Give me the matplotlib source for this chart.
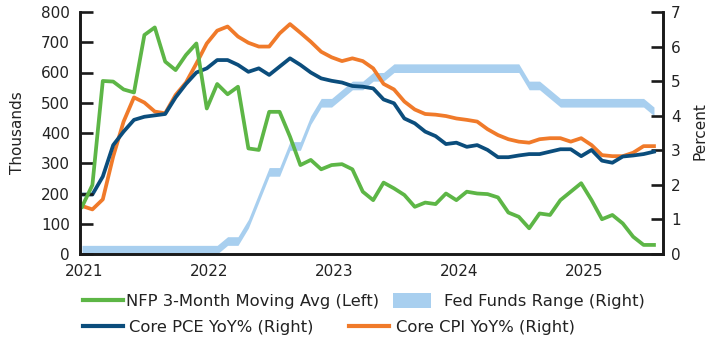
import numpy as np
import matplotlib
matplotlib.use("Agg")
import matplotlib.pyplot as plt
from matplotlib.lines import Line2D
from matplotlib.patches import Patch

# monthly, Jan 2021 .. Aug 2025
months = np.arange(56)
year_ticks = [0, 12, 24, 36, 48]
year_labels = ['2021', '2022', '2023', '2024', '2025']

# NFP 3-month moving average, thousands (left axis)
nfp_3m = [156, 228, 572, 570, 544, 534, 724, 749, 636, 608, 658, 696,
          481, 562, 528, 553, 349, 344, 470, 470, 388, 294, 311, 280,
          294, 297, 280, 206, 178, 236, 217, 195, 156, 170, 165, 200,
          178, 206, 200, 198, 187, 137, 123, 85, 134, 129, 178, 206,
          234, 178, 115, 129, 101, 57, 30, 30]

# Core PCE YoY %, right axis
core_pce = [1.72, 1.72, 2.24, 3.15, 3.54, 3.88, 3.97, 4.01, 4.05, 4.53, 4.92, 5.25,
            5.37, 5.61, 5.61, 5.47, 5.27, 5.37, 5.18, 5.42, 5.66, 5.47, 5.25, 5.08,
            5.01, 4.96, 4.86, 4.84, 4.79, 4.47, 4.36, 3.92, 3.78, 3.54, 3.41, 3.18,
            3.22, 3.10, 3.15, 3.01, 2.80, 2.80, 2.85, 2.89, 2.89, 2.96, 3.03, 3.03,
            2.83, 3.01, 2.70, 2.64, 2.82, 2.85, 2.89, 2.96]

# Core CPI YoY %, right axis
core_cpi = [1.39, 1.29, 1.58, 2.82, 3.83, 4.53, 4.38, 4.12, 4.07, 4.60, 4.96, 5.51,
            6.09, 6.46, 6.58, 6.29, 6.11, 6.00, 6.00, 6.38, 6.65, 6.40, 6.14, 5.85,
            5.69, 5.58, 5.66, 5.58, 5.37, 4.92, 4.76, 4.41, 4.18, 4.05, 4.03, 3.99,
            3.92, 3.88, 3.83, 3.61, 3.44, 3.32, 3.25, 3.22, 3.32, 3.35, 3.35, 3.25,
            3.35, 3.15, 2.86, 2.83, 2.83, 2.93, 3.12, 3.12]

# Fed funds target range, upper bound %, range width 0.25
fed_upper = np.array([0.25] * 14 + [0.5, 0.5, 1.0, 1.75, 2.5, 2.5, 3.25, 3.25, 4.0,
                      4.5, 4.5, 4.75, 5.0, 5.0, 5.25, 5.25] + [5.5] * 13 +
                     [5.0, 5.0, 4.75] + [4.5] * 9 + [4.25])
fed_width = 0.25
fed_lower = fed_upper - fed_width

c_green = '#5db646'
c_navy = '#0b4d7c'
c_orange = '#f07a2a'
c_blue = '#a8cfef'
c_text = '#222222'

plt.rcParams['font.family'] = 'DejaVu Sans'
fig = plt.figure(figsize=(7.15, 3.45), dpi=100)
ax = fig.add_axes([79.5 / 715, 1 - 254 / 345, 583 / 715, 242 / 345])
ax2 = ax.twinx()
ax.set_zorder(ax2.get_zorder() + 1)
ax.patch.set_visible(False)

ax2.fill_between(months, fed_lower, fed_upper, color=c_blue, lw=0, zorder=1)
ax2.plot(months, core_cpi, color=c_orange, lw=2.7, zorder=2)
ax2.plot(months, core_pce, color=c_navy, lw=2.7, zorder=3)
ax.plot(months, nfp_3m, color=c_green, lw=2.7)

ax.set_xlim(-0.24, 55.82)
ax.set_ylim(0, 800)
ax2.set_ylim(0, 7)
ax.set_yticks(range(0, 801, 100))
ax2.set_yticks(range(0, 8))
ax.set_xticks(np.array(year_ticks) + 0.25)
ax.set_xticklabels(year_labels)

for a in (ax, ax2):
    a.spines['top'].set_visible(False)
    for s in ('left', 'right', 'bottom'):
        a.spines[s].set_linewidth(1.9)
        a.spines[s].set_color('#1a1a1a')
ax.tick_params(axis='y', direction='in', length=9, width=1.9, labelsize=11,
               pad=7, colors='#1a1a1a', labelcolor=c_text)
ax2.tick_params(axis='y', direction='in', length=9, width=1.9, labelsize=11,
                pad=6, colors='#1a1a1a', labelcolor=c_text)
ax.tick_params(axis='x', length=0, labelsize=11, pad=7, labelcolor=c_text)

ax.set_ylabel('Thousands', fontsize=11, color=c_text)
ax.yaxis.set_label_coords(-0.094, 0.5)
ax2.set_ylabel('Percent', fontsize=11, color=c_text)
ax2.yaxis.set_label_coords(1.051, 0.51)

fs = 11.8
entries = [
    (Line2D([], [], color=c_green, lw=3), 'NFP 3-Month Moving Avg (Left)', 83, 301, 2.45, 0.15),
    (Patch(facecolor=c_blue, lw=0), 'Fed Funds Range (Right)', 393, 301, 2.3, 0.8),
    (Line2D([], [], color=c_navy, lw=3), 'Core PCE YoY% (Right)', 83, 327, 2.45, 0.35),
    (Line2D([], [], color=c_orange, lw=3), 'Core CPI YoY% (Right)', 349, 327, 2.45, 0.4),
]
for h, lbl, px, py, hl, tp in entries:
    fig.legend([h], [lbl], loc='center left', bbox_to_anchor=(px / 715, 1 - py / 345),
               frameon=False, fontsize=fs, handlelength=hl, handleheight=1.0,
               handletextpad=tp, borderpad=0, borderaxespad=0, labelcolor=c_text)

fig.savefig('out.png', dpi=100)
